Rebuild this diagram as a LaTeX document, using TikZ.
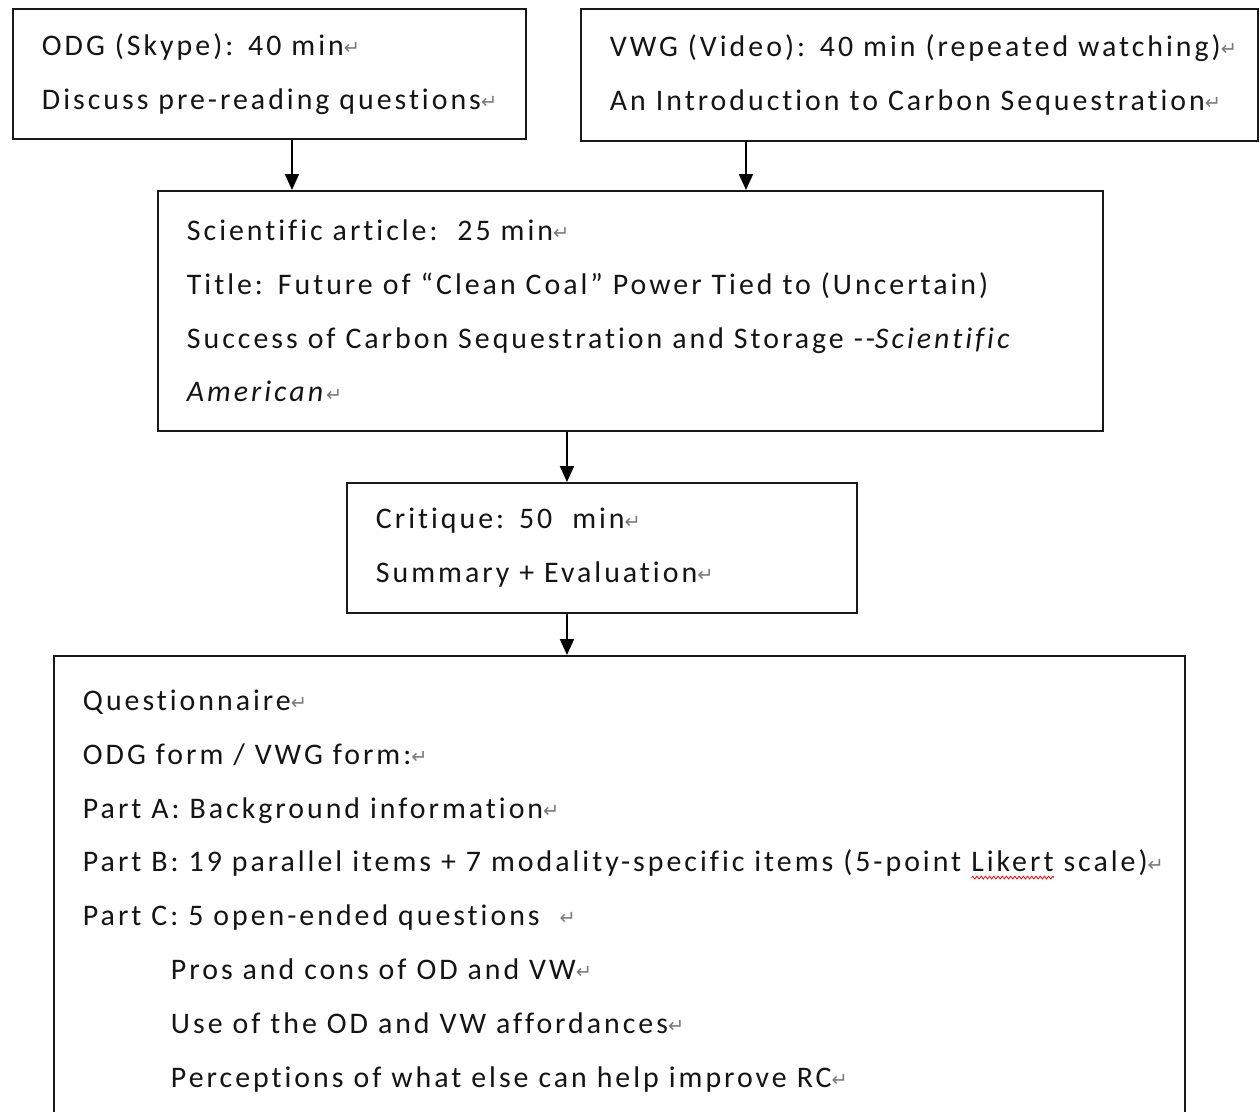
\documentclass[tikz,border=0pt]{standalone}
\usepackage{fontspec}
\setmainfont{Carlito}[LetterSpace=10, Ligatures=NoCommon]
\newfontfamily\markfont{DejaVu Sans}
\usepackage{xcolor}
\definecolor{textGray}{HTML}{141414}
\definecolor{markGray}{HTML}{7A7A7A}
\usepackage{tikz}
\usetikzlibrary{arrows.meta, positioning, decorations.pathmorphing}
\hfuzz=400pt

\newsavebox{\wavebox}
\newcommand{\pmark}{{\markfont\fontsize{11}{11}\selectfont\raisebox{0.5pt}{\textcolor{markGray}{↵}}}}
\newcommand{\pline}[1]{\mbox{#1\pmark}}
\newcommand{\spellwave}[1]{\sbox{\wavebox}{#1}\rlap{\tikz[baseline=0pt]\draw[red, line width=0.45pt, decorate,
	decoration={zigzag, amplitude=0.8pt, segment length=2.4pt}] (0pt,-3.2pt) -- (\wd\wavebox,-3.2pt);}\usebox{\wavebox}}

\begin{document}
\begin{tikzpicture}[
		stagebox/.style={
			draw=black!90,
			line width=1.1pt,
			anchor=north west,
			inner xsep=0.58cm,
			inner ysep=0pt,
			align=left,
			text=textGray,
			font=\fontsize{17}{30.6}\selectfont
		},
		arrow/.style={-{Triangle[width=0.28cm, length=0.32cm]}, line width=1.1pt}
		]
		\useasboundingbox (0,0) rectangle (25.2,-22.22);
		
		\node[stagebox, minimum width=10.26cm, minimum height=2.6cm, text width=9.1cm] (odg) at (0.24,-0.16)
			{\pline{ODG (Skype): 40 min}\\ \pline{Discuss pre-reading questions}};
		\node[stagebox, minimum width=13.54cm, minimum height=2.64cm, text width=12.38cm] (vwg) at (11.6,-0.16)
			{\pline{VWG (Video): 40 min (repeated watching)}\\ \pline{An Introduction to Carbon Sequestration}};
		\node[stagebox, minimum width=18.9cm, minimum height=4.8cm, text width=17.74cm] (article) at (3.14,-3.8)
			{\pline{Scientific article:\ \ 25 min}\\
			 \mbox{Title: Future of “Clean Coal” Power Tied to (Uncertain)}\\
			 \mbox{Success of Carbon Sequestration and Storage {-}{-}\textit{Scientific}}\\
			 \pline{\textit{American}}};
		\node[stagebox, minimum width=10.2cm, minimum height=2.6cm, text width=9.04cm] (critique) at (6.92,-9.64)
			{\pline{Critique: 50\ \ min}\\ \pline{Summary + Evaluation}};
		\node[stagebox, minimum width=22.62cm, minimum height=9.4cm, text width=21.46cm] (survey) at (1.06,-13.1)
			{\pline{Questionnaire}\\
			 \pline{ODG form / VWG form:}\\
			 \pline{Part A: Background information}\\
			 \pline{Part B: 19 parallel items + 7 modality-specific items (5-point \spellwave{Likert} scale)}\\
			 \pline{Part C: 5 open-ended questions\ \ }\\
			 \hspace*{1.76cm}\pline{Pros and cons of OD and VW}\\
			 \hspace*{1.76cm}\pline{Use of the OD and VW affordances}\\
			 \hspace*{1.76cm}\pline{Perceptions of what else can help improve RC}};
		
		\draw[arrow] ([xshift=0.45cm]odg.south) -- ([xshift=0.45cm]odg.south |- article.north);
		\draw[arrow] ([xshift=-3.47cm]vwg.south) -- ([xshift=-3.47cm]vwg.south |- article.north);
		\draw[arrow] ([xshift=-1.27cm]article.south) -- ([xshift=-1.27cm]article.south |- critique.north);
		\draw[arrow] ([xshift=-0.7cm]critique.south) -- ([xshift=-0.7cm]critique.south |- survey.north);
		
	\end{tikzpicture}
\end{document}
